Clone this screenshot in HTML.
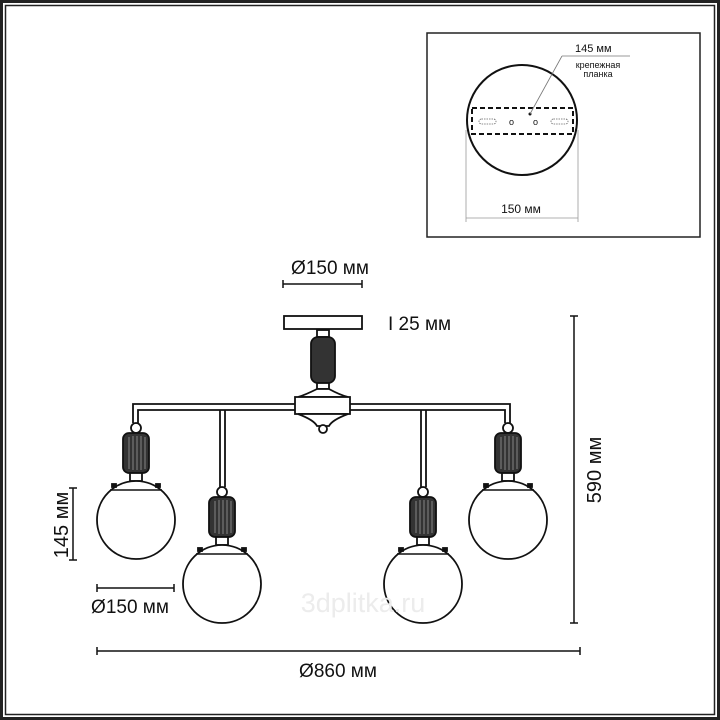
<!DOCTYPE html>
<html><head><meta charset="utf-8"><style>
html,body{margin:0;padding:0;background:#fff}
svg{display:block}
text{font-family:"Liberation Sans","DejaVu Sans",sans-serif;fill:#111}
</style></head><body>
<svg width="720" height="720" viewBox="0 0 720 720" xmlns="http://www.w3.org/2000/svg">
<defs>
<g id="p">
<circle cx="0" cy="0" r="5" fill="#fff"/>
<rect x="-13" y="5" width="26" height="40" rx="6" fill="#333"/>
<g stroke="#aaa" stroke-width="0.7"><line x1="-7" y1="9" x2="-7" y2="41"/><line x1="-3" y1="8" x2="-3" y2="42"/><line x1="1" y1="8" x2="1" y2="42"/><line x1="5" y1="8" x2="5" y2="42"/><line x1="9" y1="9" x2="9" y2="41"/></g>
<rect x="-6" y="45" width="12" height="8" fill="#fff"/>
<circle cx="0" cy="92" r="39" fill="#fff"/>
<line x1="-26" y1="62" x2="26" y2="62" stroke-width="1.5"/>
<rect x="-24" y="56" width="4" height="3" fill="#111"/><rect x="20" y="56" width="4" height="3" fill="#111"/>
</g>
</defs>
<rect x="1.5" y="1.5" width="717" height="717" fill="none" stroke="#222" stroke-width="3"/>
<rect x="5.5" y="5.5" width="709" height="709" fill="none" stroke="#222" stroke-width="1.5"/>

<!-- inset -->
<rect x="427" y="33" width="273" height="204" fill="none" stroke="#222" stroke-width="1.5"/>
<circle cx="522" cy="120" r="55" fill="none" stroke="#111" stroke-width="2"/>
<rect x="472" y="108" width="101" height="26" fill="#fff" stroke="#111" stroke-width="2" stroke-dasharray="5,3"/>
<rect x="479" y="119" width="17" height="5" rx="2.5" fill="none" stroke="#666" stroke-width="0.8" stroke-dasharray="1.5,1"/>
<rect x="551" y="119" width="17" height="5" rx="2.5" fill="none" stroke="#666" stroke-width="0.8" stroke-dasharray="1.5,1"/>
<text x="509" y="125" font-size="9">o</text>
<text x="533" y="125" font-size="9">o</text>
<circle cx="530" cy="114" r="1.5" fill="#111"/>
<line x1="530" y1="114" x2="562" y2="56" stroke="#777" stroke-width="0.8"/>
<line x1="562" y1="56" x2="630" y2="56" stroke="#777" stroke-width="0.8"/>
<text x="575" y="52" font-size="11">145 мм</text>
<text x="598" y="68" font-size="9" text-anchor="middle">крепежная</text>
<text x="598" y="77" font-size="9" text-anchor="middle">планка</text>
<line x1="466" y1="130" x2="466" y2="222" stroke="#999" stroke-width="0.8"/>
<line x1="578" y1="130" x2="578" y2="222" stroke="#999" stroke-width="0.8"/>
<line x1="466" y1="218" x2="578" y2="218" stroke="#999" stroke-width="0.8"/>
<text x="521" y="213" font-size="12" text-anchor="middle">150 мм</text>

<!-- top dims -->
<text x="330" y="274" font-size="19" text-anchor="middle">Ø150 мм</text>
<line x1="283" y1="284" x2="362" y2="284" stroke="#111" stroke-width="1.5"/>
<line x1="283" y1="280" x2="283" y2="288" stroke="#111" stroke-width="1.5"/>
<line x1="362" y1="280" x2="362" y2="288" stroke="#111" stroke-width="1.5"/>
<text x="388" y="330" font-size="19">I 25 мм</text>

<g stroke="#111" stroke-width="1.8" fill="#fff">
<rect x="284" y="316" width="78" height="13"/>
<rect x="317" y="330" width="12" height="7"/>
<rect x="311" y="337" width="24" height="46" rx="7" fill="#333"/>
<rect x="317" y="383" width="12" height="6"/>
<path d="M317 389 Q305 395 298 397 L348 397 Q340 395 329 389 Z"/>
<rect x="295" y="397" width="55" height="17"/>
<path d="M298 414 Q314 420 317 426 L329 426 Q332 420 348 414 Z"/>
<circle cx="323" cy="429" r="4"/>
<path d="M133 423 V404 H295 M350 404 H510 V423 M138 423 V410 H295 M350 410 H505 V423" fill="none"/>
<path d="M220 410 V487 M225 410 V487 M421 410 V487 M426 410 V487" fill="none"/>
</g>

<g stroke="#111" stroke-width="1.8">
<use href="#p" x="136" y="428"/>
<use href="#p" x="222" y="492"/>
<use href="#p" x="423" y="492"/>
<use href="#p" x="508" y="428"/>
</g>

<g stroke="#111" stroke-width="1.5">
<line x1="73" y1="488" x2="73" y2="560"/><line x1="69" y1="488" x2="77" y2="488"/><line x1="69" y1="560" x2="77" y2="560"/>
<line x1="97" y1="588" x2="174" y2="588"/><line x1="97" y1="584" x2="97" y2="592"/><line x1="174" y1="584" x2="174" y2="592"/>
<line x1="97" y1="651" x2="580" y2="651"/><line x1="97" y1="647" x2="97" y2="655"/><line x1="580" y1="647" x2="580" y2="655"/>
<line x1="574" y1="316" x2="574" y2="623"/><line x1="570" y1="316" x2="578" y2="316"/><line x1="570" y1="623" x2="578" y2="623"/>
</g>
<text transform="translate(68,525) rotate(-90)" font-size="20" text-anchor="middle">145 мм</text>
<text x="130" y="613" font-size="19" text-anchor="middle">Ø150 мм</text>
<text x="338" y="677" font-size="19" text-anchor="middle">Ø860 мм</text>
<text transform="translate(601,470) rotate(-90)" font-size="20" text-anchor="middle">590 мм</text>
<text x="363" y="612" font-size="27" text-anchor="middle" style="fill:#ececec">3dplitka.ru</text>
</svg>
</body></html>
